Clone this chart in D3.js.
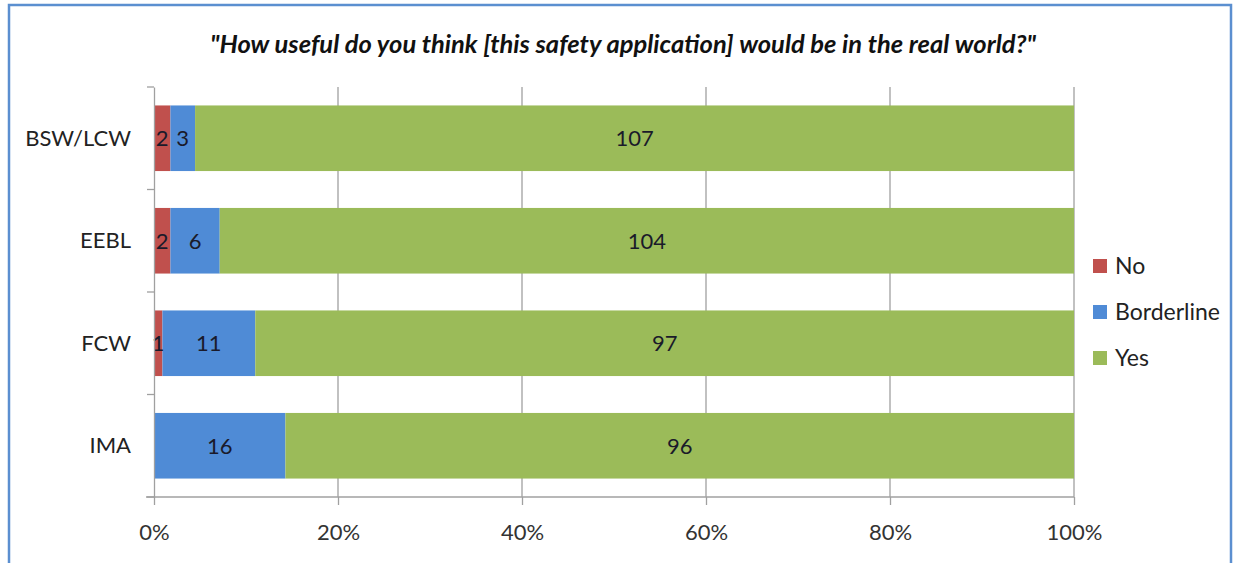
<!DOCTYPE html>
<html>
<head>
<meta charset="utf-8">
<script src="https://d3js.org/d3.v7.min.js"></script>
<style>
body { margin: 0; background: #fff; }
svg { font-family: Lato, "Open Sans", sans-serif; }
</style>
</head>
<body>
<svg id="chart" width="1235" height="563"></svg>
<script>
var categories = ['BSW/LCW', 'EEBL', 'FCW', 'IMA'];
var seriesNames = ['No', 'Borderline', 'Yes'];
var noValues = [2, 2, 1, 0];
var borderlineValues = [3, 6, 11, 16];
var yesValues = [107, 104, 97, 96];
var tickLabels = ['0%', '20%', '40%', '60%', '80%', '100%'];
var colors = ['#C0504D', '#4F8BD6', '#9BBB59'];

var svg = d3.select('#chart');

// outer frame
svg.append('rect')
	.attr('x', 9).attr('y', 5)
	.attr('width', 1222).attr('height', 570)
	.style('fill', 'none')
	.style('stroke', '#5B8FD0')
	.style('stroke-width', 2.5);

svg.append('text')
	.attr('x', 623).attr('y', 53)
	.attr('text-anchor', 'middle')
	.style('font-size', '25.5px')
	.style('font-weight', 'bold')
	.style('font-style', 'italic')
	.style('fill', '#111')
	.text('"How useful do you think [this safety application] would be in the real world?"');

var plotLeft = 154, plotRight = 1074, plotTop = 87, plotBottom = 497;

var rows = categories.map(function(c, i) {
	return { cat: c, No: noValues[i], Borderline: borderlineValues[i], Yes: yesValues[i] };
});

var stack = d3.stack().keys(seriesNames).offset(d3.stackOffsetExpand);
var layers = stack(rows);

var x = d3.scaleLinear().domain([0, 1]).range([plotLeft, plotRight]);
var y = d3.scaleBand().domain(categories).range([plotTop, plotBottom]).paddingInner(0.36).paddingOuter(0.18);
var yb = d3.scaleBand().domain(categories).range([plotTop, plotBottom]);

// gridlines
svg.append('g').selectAll('line')
	.data([0.2, 0.4, 0.6, 0.8, 1])
	.enter().append('line')
	.attr('x1', function(d) { return x(d); })
	.attr('x2', function(d) { return x(d); })
	.attr('y1', plotTop).attr('y2', plotBottom)
	.style('stroke', '#A0A0A0')
	.style('stroke-width', 1.3);

// bars
var layer = svg.append('g').selectAll('g')
	.data(layers)
	.enter().append('g')
	.style('fill', function(d, i) { return colors[i]; });

layer.selectAll('rect')
	.data(function(d) { return d; })
	.enter().append('rect')
	.attr('x', function(d) { return x(d[0]); })
	.attr('width', function(d) { return x(d[1]) - x(d[0]); })
	.attr('y', function(d) { return y(d.data.cat); })
	.attr('height', y.bandwidth());

// value labels
layers.forEach(function(l) {
	svg.append('g').selectAll('text')
		.data(l.filter(function(d) { return d.data[l.key] > 0; }))
		.enter().append('text')
		.attr('x', function(d) { return (x(d[0]) + x(d[1])) / 2; })
		.attr('y', function(d) { return y(d.data.cat) + y.bandwidth() / 2 + 8; })
		.attr('text-anchor', 'middle')
		.style('font-size', '22px')
		.style('fill', '#1a1a2a')
		.text(function(d) { return d.data[l.key]; });
});

// x axis
var xAxis = d3.axisBottom(x)
	.tickValues([0, 0.2, 0.4, 0.6, 0.8, 1])
	.tickFormat(function(d, i) { return tickLabels[i]; })
	.tickSize(8)
	.tickSizeOuter(0);

var gx = svg.append('g')
	.attr('transform', 'translate(0,' + plotBottom + ')')
	.call(xAxis);
gx.select('.domain').attr('d', 'M' + (plotLeft - 8) + ',0H' + plotRight).style('stroke', '#A0A0A0').style('stroke-width', 1.3);
gx.selectAll('.tick line').style('stroke', '#A0A0A0').style('stroke-width', 1.3);
gx.selectAll('.tick text')
	.attr('dy', 0).attr('y', 43)
	.style('font-size', '22px')
	.style('font-family', 'Lato, sans-serif')
	.style('fill', '#333');

// y axis
var yAxis = d3.axisLeft(yb).tickSize(0);
var gy = svg.append('g')
	.attr('transform', 'translate(' + plotLeft + ',0)')
	.call(yAxis);
gy.select('.domain').style('stroke', '#A0A0A0').style('stroke-width', 1.3);
gy.selectAll('.tick text')
	.attr('x', -23)
	.attr('dy', '0.35em')
	.style('font-size', '22px')
	.style('font-family', 'Lato, sans-serif')
	.style('fill', '#222');
// category boundary ticks
gy.append('g').selectAll('line')
	.data(d3.range(categories.length + 1))
	.enter().append('line')
	.attr('x1', -7).attr('x2', 0)
	.attr('y1', function(d) { return plotTop + d * yb.step(); })
	.attr('y2', function(d) { return plotTop + d * yb.step(); })
	.style('stroke', '#A0A0A0')
	.style('stroke-width', 1.3);

// legend
var legend = svg.append('g').selectAll('g')
	.data(seriesNames)
	.enter().append('g')
	.attr('transform', function(d, i) { return 'translate(1093,' + (266 + i * 46) + ')'; });
legend.append('rect')
	.attr('x', 0).attr('y', -7)
	.attr('width', 14).attr('height', 14)
	.style('fill', function(d, i) { return colors[i]; });
legend.append('text')
	.attr('x', 22).attr('y', 8)
	.style('font-size', '23px')
	.style('fill', '#222')
	.text(function(d) { return d; });
</script>
</body>
</html>
